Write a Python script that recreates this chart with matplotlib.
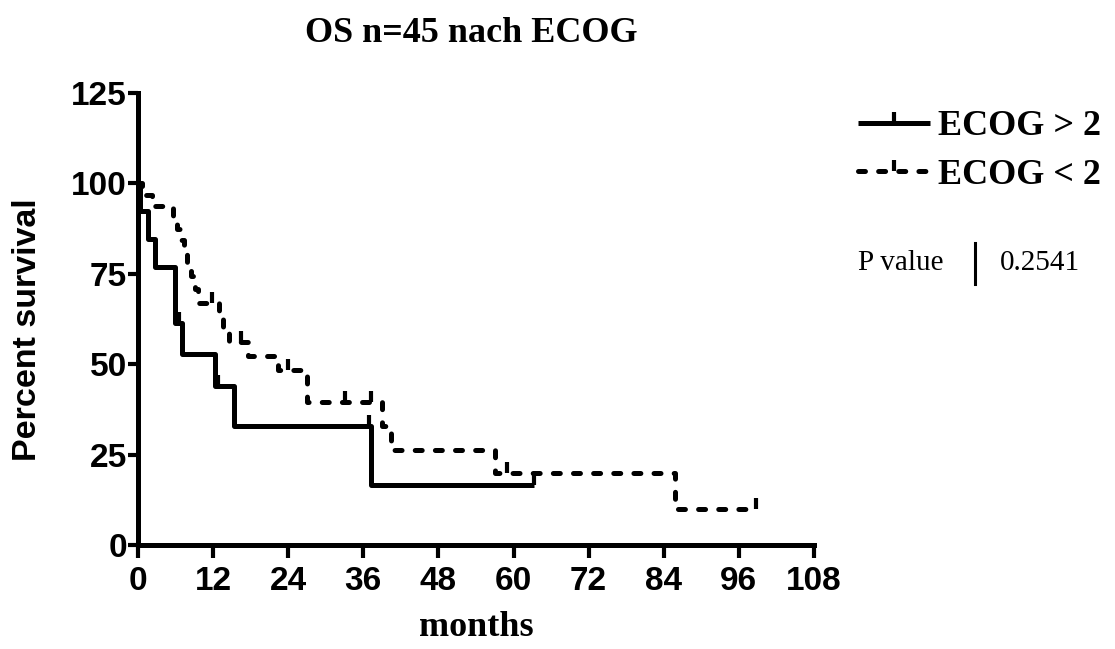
import matplotlib
matplotlib.use('Agg')
import matplotlib.pyplot as plt
from matplotlib.lines import Line2D
from matplotlib.path import Path
from matplotlib.markers import MarkerStyle

plt.rcParams['lines.scale_dashes'] = False

# Kaplan-Meier steps: time (months) and percent survival after each step
ecog_hi_t = [0, 0.3, 1.6, 2.7, 5.9, 7.0, 12.3, 15.4, 37.3, 63.3]
ecog_hi_s = [100, 92.3, 84.6, 76.9, 61.5, 52.7, 43.9, 32.9, 16.5, 16.5]
ecog_hi_cens_t = [6.5, 12.8, 36.9, 63.3]
ecog_hi_cens_s = [61.5, 43.9, 32.9, 16.5]

ecog_lo_t = [0, 0.6, 2.3, 5.6, 6.3, 6.9, 7.4, 7.9, 8.4, 9.1, 9.6, 13.0, 13.6,
             14.6, 17.5, 22.3, 27.0, 39.0, 40.5, 57.0, 85.8, 98.8]
ecog_lo_s = [100, 96.9, 93.8, 90.6, 87.5, 84.4, 81.3, 77.9, 74.5, 70.8, 67.0,
             63.3, 59.7, 56.1, 52.3, 48.4, 39.5, 33.0, 26.4, 19.8, 9.9, 9.9]
ecog_lo_cens_t = [11.9, 16.4, 24.0, 33.0, 37.3, 59.0, 98.8]
ecog_lo_cens_s = [67.0, 56.1, 48.4, 39.5, 39.5, 19.8, 9.9]

labels = ['ECOG > 2', 'ECOG < 2']
x_ticks = [0, 12, 24, 36, 48, 60, 72, 84, 96, 108]
y_ticks = [0, 25, 50, 75, 100, 125]
p_value = '0.2541'

sans = ['Liberation Sans', 'DejaVu Sans']
serif = ['Liberation Serif', 'DejaVu Serif']

# censor mark: short tick pointing up from the curve
tick = MarkerStyle(Path([(0, 0), (0, 1)], [Path.MOVETO, Path.LINETO]))

lw = 3.6
dash = (0, (5, 9.5))

fig = plt.figure(figsize=(11.15, 6.49), dpi=100)
ax = fig.add_axes([138/1115, 1-545/649, (814-138)/1115, (545-93)/649])

ax.step(ecog_hi_t, ecog_hi_s, where='post', color='k', lw=lw,
        solid_capstyle='butt', clip_on=False)
ax.plot(ecog_hi_cens_t, ecog_hi_cens_s, ls='none', marker=tick, ms=16,
        mew=3, color='k', clip_on=False)

ax.step(ecog_lo_t, ecog_lo_s, where='post', color='k', lw=lw, ls=dash,
        dash_capstyle='round', clip_on=False)
ax.plot(ecog_lo_cens_t, ecog_lo_cens_s, ls='none', marker=tick, ms=16,
        mew=3, color='k', clip_on=False)

ax.set_xlim(0, 108)
ax.set_ylim(0, 125)
ax.set_xticks(x_ticks)
ax.set_yticks(y_ticks)
ax.set_xticklabels([str(v) for v in x_ticks], family=sans,
                   fontweight='bold', fontsize=24)
ax.set_yticklabels([str(v) for v in y_ticks], family=sans,
                   fontweight='bold', fontsize=24)
ax.tick_params(axis='x', direction='out', length=9, width=3, pad=6)
ax.tick_params(axis='y', direction='out', length=7, width=3, pad=1)

for side in ['top', 'right']:
    ax.spines[side].set_visible(False)
for side in ['left', 'bottom']:
    ax.spines[side].set_linewidth(lw)
    ax.spines[side].set_capstyle('projecting')

fig.text(471/1115, 1-33/649, 'OS n=45 nach ECOG', family=serif,
         fontweight='bold', fontsize=26, ha='center', va='center')
fig.text(476/1115, 1-628/649, 'months', family=serif, fontweight='bold',
         fontsize=26, ha='center', va='center')
fig.text(28/1115, 1-330/649, 'Percent survival', family=sans,
         fontweight='bold', fontsize=24.5, rotation=90, ha='center',
         va='center')

handles = [
    Line2D([], [], color='k', lw=lw, marker=tick, ms=16, mew=3,
           solid_capstyle='butt'),
    Line2D([], [], color='k', lw=lw, ls=dash, marker=tick, ms=16, mew=3,
           dash_capstyle='round'),
]
fig.legend(handles, labels, loc='upper left',
           bbox_to_anchor=(858/1115, 1-110/649), frameon=False,
           prop={'family': serif, 'weight': 'bold', 'size': 26},
           handlelength=2.0, handletextpad=0.22, labelspacing=0.42,
           borderaxespad=0, borderpad=0)

fig.text(858/1115, 1-263/649, 'P value', family=serif, fontsize=21,
         ha='left', va='center')
fig.add_artist(Line2D([975/1115, 975/1115], [1-243/649, 1-284/649],
                      color='k', lw=2.2, transform=fig.transFigure))
fig.text(1000/1115, 1-263/649, p_value, family=serif, fontsize=21,
         ha='left', va='center')

fig.savefig('out.png', dpi=100)
